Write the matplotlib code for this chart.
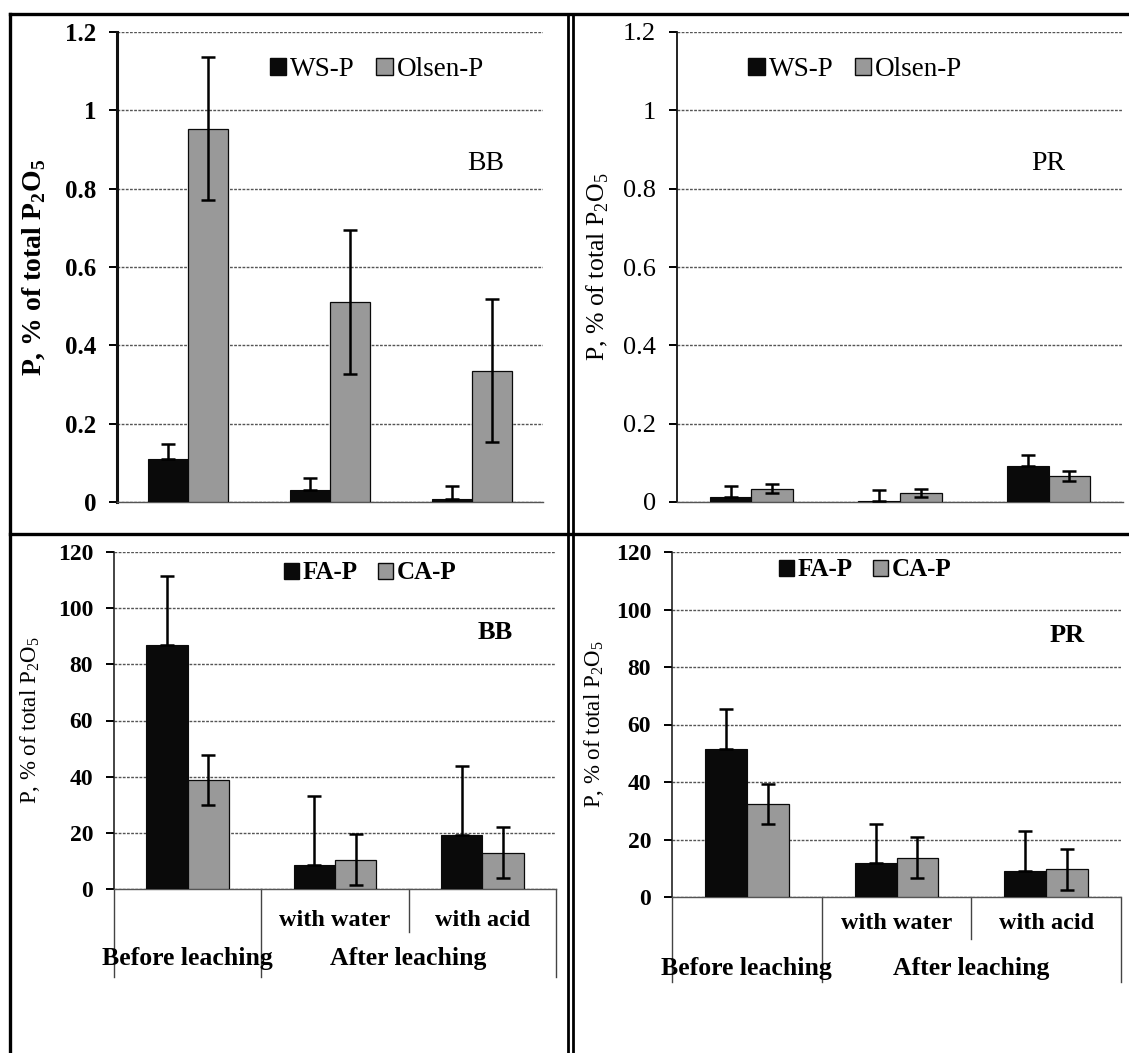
import numpy as np
import matplotlib
matplotlib.use("Agg")
import matplotlib.pyplot as plt
from matplotlib.lines import Line2D
from matplotlib.patches import Patch

plt.rcParams['font.family'] = ['Liberation Serif', 'DejaVu Serif']
plt.rcParams['mathtext.fontset'] = 'custom'
plt.rcParams['mathtext.rm'] = 'Liberation Serif'
plt.rcParams['mathtext.bf'] = 'Liberation Serif:bold'

W, H = 1129, 1053

# data
groups = ["Before leaching", "with water", "with acid"]
sub_labels = ["with water", "with acid"]
top_label = "After leaching"

bb_ws = [0.111, 0.030, 0.007]
bb_ws_err = [0.036, 0.032, 0.034]
bb_olsen = [0.953, 0.511, 0.335]
bb_olsen_err = [0.182, 0.183, 0.183]

pr_ws = [0.013, 0.003, 0.091]
pr_ws_err = [0.027, 0.027, 0.028]
pr_olsen = [0.034, 0.023, 0.066]
pr_olsen_err = [0.012, 0.011, 0.012]

bb_fa = [86.9, 8.6, 19.1]
bb_fa_err = [24.6, 24.6, 24.8]
bb_ca = [38.8, 10.5, 12.9]
bb_ca_err = [9.0, 9.1, 9.1]

pr_fa = [51.5, 11.9, 8.9]
pr_fa_err = [13.9, 13.5, 14.1]
pr_ca = [32.3, 13.7, 9.6]
pr_ca_err = [7.0, 7.0, 7.0]

top_ticks = [0, 0.2, 0.4, 0.6, 0.8, 1.0, 1.2]
top_tick_labels = ["0", "0.2", "0.4", "0.6", "0.8", "1", "1.2"]
bot_ticks = [0, 20, 40, 60, 80, 100, 120]


def px_rect(x0, y0, x1, y1):
    return [x0 / W, 1 - y1 / H, (x1 - x0) / W, (y1 - y0) / H]


fig = plt.figure(figsize=(W / 100, H / 100), dpi=100)

BLACK = '#0a0a0a'
GRAY = '#999999'


def bar_panel(rect, a, a_err, b, b_err, names, tag, ticks, tick_labels, ymax,
              leg_xy, tag_xy, ylab_x, bold_ticks, tick_size, ylab_bold, ylab_size,
              leg_size, leg_bold, tag_size, tag_bold, spine_lw):
    ax = fig.add_axes(rect)
    x = np.arange(len(a))
    w = 0.28
    ax.bar(x - w / 2, a, w, color=BLACK, edgecolor=BLACK, lw=0.8, zorder=3)
    ax.bar(x + w / 2, b, w, color=GRAY, edgecolor=BLACK, lw=0.9, zorder=3)
    ax.errorbar(x - w / 2, a, yerr=[np.zeros(len(a)), a_err], fmt='none', ecolor='black',
                elinewidth=1.8, capsize=5, capthick=1.8, zorder=4)
    ax.errorbar(x + w / 2, b, yerr=b_err, fmt='none', ecolor='black',
                elinewidth=1.8, capsize=5, capthick=1.8, zorder=4)
    ax.set_xlim(-0.5, len(a) - 0.5)
    ax.set_ylim(0, ymax)
    ax.set_yticks(ticks)
    ax.set_yticklabels(tick_labels)
    ax.set_xticks([])
    for t in ax.get_yticklabels():
        t.set_fontsize(tick_size)
        t.set_fontweight('bold' if bold_ticks else 'normal')
    ax.tick_params(axis='y', direction='out', length=6, width=1.4, pad=9)
    ax.yaxis.grid(True, color='#555555', lw=1.0, ls=(0, (2, 1)), zorder=0)
    ax.set_axisbelow(True)
    for s in ['top', 'right']:
        ax.spines[s].set_visible(False)
    ax.spines['bottom'].set_color('#555555')
    ax.spines['bottom'].set_linestyle((0, (2, 1)))
    ax.spines['bottom'].set_linewidth(1.0)
    ax.spines['left'].set_linewidth(spine_lw)
    ax.spines['left'].set_color('#111111')
    if ylab_bold:
        ax.set_ylabel(r'P, % of total P$_\mathbf{2}$O$_\mathbf{5}$', fontsize=ylab_size,
                      fontweight='bold')
    else:
        ax.set_ylabel(r'P, % of total P$_2$O$_5$', fontsize=ylab_size)
    ax.yaxis.set_label_coords(ylab_x, 0.5)
    handles = [Patch(facecolor=BLACK, edgecolor=BLACK), Patch(facecolor=GRAY, edgecolor=BLACK)]
    ax.legend(handles, names, loc='center', bbox_to_anchor=leg_xy, ncol=2, frameon=False,
              handlelength=0.6, handleheight=0.6, handletextpad=0.15, columnspacing=0.8,
              prop={'size': leg_size, 'weight': 'bold' if leg_bold else 'normal'})
    ax.text(tag_xy[0], tag_xy[1], tag, transform=ax.transAxes, ha='center', va='center',
            fontsize=tag_size, fontweight='bold' if tag_bold else 'normal')
    return ax


def category_box(ax, inner_y, outer_y, sub_y, main_y, size):
    tr = ax.get_xaxis_transform()
    kw = dict(color='#444444', lw=1.0, transform=tr, clip_on=False)
    for xb in [-0.5, 0.5, 2.5]:
        ax.plot([xb, xb], [0, outer_y], **kw)
    ax.plot([1.5, 1.5], [0, inner_y], **kw)
    for i, lab in enumerate(sub_labels):
        ax.text(i + 1, sub_y, lab, transform=tr, ha='center', va='center',
                fontsize=size - 1, fontweight='bold')
    ax.text(0, main_y, groups[0], transform=tr, ha='center', va='center',
            fontsize=size, fontweight='bold')
    ax.text(1.5, main_y, top_label, transform=tr, ha='center', va='center',
            fontsize=size, fontweight='bold')


ax1 = bar_panel(px_rect(117, 32, 543, 502), bb_ws, bb_ws_err, bb_olsen, bb_olsen_err,
                ["WS-P", "Olsen-P"], "BB", top_ticks, top_tick_labels, 1.2,
                (0.61, 0.92), (0.866, 0.721), -0.162, True, 18, True, 20, 19.5, False,
                20, False, 2.2)
ax2 = bar_panel(px_rect(677, 32, 1123, 502), pr_ws, pr_ws_err, pr_olsen, pr_olsen_err,
                ["WS-P", "Olsen-P"], "PR", top_ticks, top_tick_labels, 1.2,
                (0.40, 0.92), (0.832, 0.721), -0.147, False, 19, False, 18.5, 19.5, False,
                20, False, 1.3)
ax3 = bar_panel(px_rect(114, 552, 556, 889), bb_fa, bb_fa_err, bb_ca, bb_ca_err,
                ["FA-P", "CA-P"], "BB", bot_ticks, [str(t) for t in bot_ticks], 120,
                (0.58, 0.938), (0.862, 0.76), -0.163, True, 17, False, 16.5, 18, True,
                19, True, 1.1)
ax4 = bar_panel(px_rect(672, 552, 1121, 897), pr_fa, pr_fa_err, pr_ca, pr_ca_err,
                ["FA-P", "CA-P"], "PR", bot_ticks, [str(t) for t in bot_ticks], 120,
                (0.43, 0.948), (0.88, 0.757), -0.147, True, 17, False, 16.5, 18, True,
                19, True, 1.1)

category_box(ax3, -0.128, -0.261, -0.092, -0.205, 18.5)
category_box(ax4, -0.122, -0.246, -0.078, -0.206, 18.5)


# panel frame lines
def fline(x0, y0, x1, y1, lw=2.4):
    fig.add_artist(Line2D([x0 / W, x1 / W], [1 - y0 / H, 1 - y1 / H],
                          color='black', lw=lw, transform=fig.transFigure))


fline(10, 14, W, 14)
fline(10, 14, 10, H)
fline(10, 534, W, 534)
fline(568, 14, 568, H, lw=2.0)
fline(573, 14, 573, H, lw=2.0)

fig.savefig("out.png", dpi=100)
